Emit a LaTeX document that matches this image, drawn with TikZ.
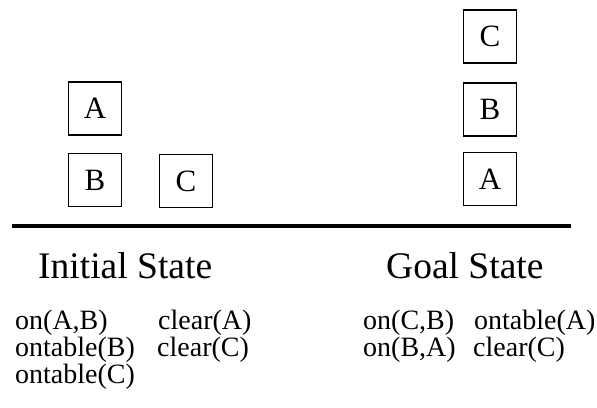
\documentclass[tikz,border=0pt]{standalone}
\usepackage{fontspec}
\setmainfont{Liberation Serif}
\usepackage{tikz}
\usetikzlibrary{calc}

\begin{document}
\begin{tikzpicture}[x=1pt, y=-1pt,
        block_style/.style={draw=black, line width=1.6pt, minimum size=53pt, inner sep=0pt, font=\fontsize{31}{33}\selectfont},
        title_style/.style={anchor=base west, inner sep=0pt, font=\fontsize{37.5}{40}\selectfont},
        fact_style/.style={anchor=base west, inner sep=0pt, text height=19pt, text depth=5pt, font=\fontsize{28}{30}\selectfont},
        table_style/.style={draw=black, line width=4.5pt}]

        \useasboundingbox (0,0) rectangle (597,407);

        % initial state
        \node [block_style](ia) at (95,108.5) {A};

        \node [block_style](ib) at (95,180) {B};

        \node [block_style](ic) at (186,181) {C};

        % goal state
        \node [block_style](gc) at (490,36.5) {C};

        \node [block_style](gb) at (490,109.5) {B};

        \node [block_style](ga) at (490,179) {A};

        \coordinate (tl) at (12,226);
        \coordinate (tr) at (571,226);
        \draw [table_style] (tl) -- (tr);

        \node [title_style](t1) at (38,278) {Initial State};

        \node [title_style](t2) at (386,278) {Goal State};

        \node [fact_style](f1) at (15,329) {on(A,B)};
        \node [fact_style](f2) at (158,329) {clear(A)};
        \node [fact_style](f3) at (15,356) {ontable(B)};
        \node [fact_style](f4) at (157,356) {clear(C)};
        \node [fact_style](f5) at (15,383) {ontable(C)};

        \node [fact_style](g1) at (363,329) {on(C,B)};
        \node [fact_style](g2) at (474,329) {ontable(A)};
        \node [fact_style](g3) at (363,356) {on(B,A)};
        \node [fact_style](g4) at (473,356) {clear(C)};

\end{tikzpicture}
\end{document}
